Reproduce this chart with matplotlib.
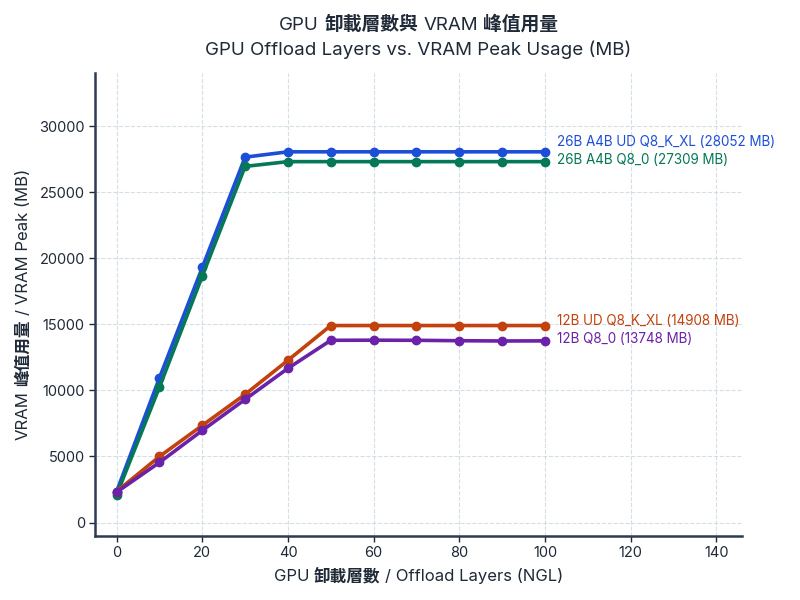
import matplotlib
matplotlib.use('Agg')
import matplotlib.pyplot as plt

plt.rcParams['font.family'] = ['Inter', 'Noto Sans CJK TC', 'DejaVu Sans']
plt.rcParams['axes.unicode_minus'] = False

# 數據
ngl = [0, 10, 20, 30, 40, 50, 60, 70, 80, 90, 100]
vram_26b_ud = [2350, 10950, 19300, 27650, 28052, 28052, 28052, 28052, 28052, 28052, 28052]
vram_26b_q8 = [2100, 10250, 18650, 26950, 27309, 27309, 27309, 27309, 27309, 27309, 27309]
vram_12b_ud = [2350, 5000, 7350, 9700, 12280, 14908, 14908, 14908, 14908, 14908, 14908]
vram_12b_q8 = [2300, 4550, 6970, 9320, 11670, 13790, 13800, 13790, 13760, 13740, 13748]

series = [
    ('26B A4B UD Q8_K_XL (28052 MB)', vram_26b_ud, '#1d4ed8', 7),
    ('26B A4B Q8_0 (27309 MB)', vram_26b_q8, '#047857', 1.5),
    ('12B UD Q8_K_XL (14908 MB)', vram_12b_ud, '#c2410c', 3),
    ('12B Q8_0 (13748 MB)', vram_12b_q8, '#6b21a8', 1.5),
]

W, H = 800, 600
fig = plt.figure(figsize=(8, 6), dpi=100)
ax = fig.add_axes([0.119, 0.107, 0.8085, 0.771])

for label, vals, color, dy in series:
    ax.plot(ngl, vals, color=color, linewidth=2.6, marker='o', markersize=6, zorder=3)
    ax.annotate(label, xy=(ngl[-1], vals[-1]), xytext=(8.5, dy), textcoords='offset points',
                color=color, fontsize=9.7, va='center', ha='left')

ax.set_xlim(-5, 146)
ax.set_ylim(-1000, 34000)
ax.set_xticks(range(0, 141, 20))
ax.set_yticks(range(0, 30001, 5000))

ax.grid(True, linestyle='--', color='#cbd5e1', linewidth=0.8, alpha=0.8)
ax.set_axisbelow(True)
for s in ['top', 'right']:
    ax.spines[s].set_visible(False)
for s in ['left', 'bottom']:
    ax.spines[s].set_color('#2d3b55')
    ax.spines[s].set_linewidth(1.8)
ax.tick_params(colors='#1f2937', labelsize=10.5, length=4, width=1)

# 中文粗體、英文常規的混合文字
renderer = fig.canvas.get_renderer()
TXT = '#1f2937'

def text_width(s, size, weight):
    t = fig.text(0, 0, s, fontsize=size, fontweight=weight)
    w = t.get_window_extent(renderer).width
    t.remove()
    return w

def mixed_text(cx, cy, parts, size, rotation=0):
    space = text_width('x x', size, 'normal') - text_width('xx', size, 'normal')
    widths = [text_width(s, size, w) for s, w in parts]
    total = sum(widths) + space * (len(parts) - 1)
    pos = -total / 2
    for (s, w), wd in zip(parts, widths):
        if rotation == 0:
            x, y = cx + pos, cy
        else:
            x, y = cx, cy + pos
        fig.text(x / W, 1 - y / H if rotation == 0 else y / H, s, fontsize=size, fontweight=w,
                 color=TXT, ha='left', va='baseline', rotation=rotation, rotation_mode='anchor')
        pos += wd + space

axes_cx = (0.119 + 0.8085 / 2) * W
axes_cy = (0.107 + 0.771 / 2) * H  # 從底部算起

mixed_text(axes_cx, 30, [('GPU', 'normal'), ('卸載層數與', 'bold'), ('VRAM', 'normal'), ('峰值用量', 'bold')], 13.5)
fig.text(axes_cx / W, 1 - 55 / H, 'GPU Offload Layers vs. VRAM Peak Usage (MB)', fontsize=13.5,
         color=TXT, ha='center', va='baseline')
mixed_text(axes_cx, 581, [('GPU', 'normal'), ('卸載層數', 'bold'), ('/ Offload Layers (NGL)', 'normal')], 12)
mixed_text(28, axes_cy, [('VRAM', 'normal'), ('峰值用量', 'bold'), ('/ VRAM Peak (MB)', 'normal')], 12, rotation=90)

plt.savefig('out.png', dpi=100)
